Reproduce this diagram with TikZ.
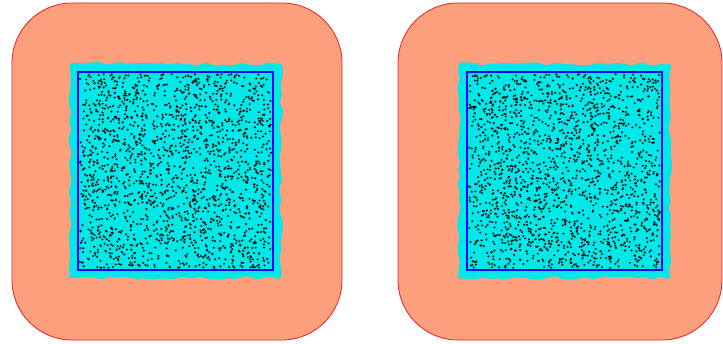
\documentclass[tikz,border=0pt]{standalone}
\usepackage{tikz}
\usetikzlibrary{decorations.pathmorphing}
\definecolor{shellSalmon}{HTML}{FB9F7D}
\definecolor{coreCyan}{HTML}{00E8E8}
\definecolor{edgeRed}{HTML}{F02020}

\begin{document}
\begin{tikzpicture}[x=1pt,y=1pt,
    shell/.style={fill=shellSalmon,draw=edgeRed,line width=0.8pt,rounded corners=60pt},
    halo/.style={fill=coreCyan,decorate,decoration={random steps,segment length=7pt,amplitude=2pt},rounded corners=3pt},
    core/.style={draw=blue,line width=1.8pt},
    grain/.style={fill=black!85!teal}]
  \useasboundingbox (0,0) rectangle (723,343);
  \pgfmathsetseed{4242}
  % two panels: outer left, core left
  \foreach \ox/\ow/\cx in {12/330/78,398/324/467}{
    \draw[shell] (\ox,3) rectangle ++(\ow,337);
    \fill[halo] ({\cx-8},65) rectangle ++(211,214);
    \fill[coreCyan] (\cx,73) rectangle ++(195,198);
    \foreach \i in {1,...,1800}
      \fill[grain] ({\cx+2+rnd*191},{75+rnd*194}) circle (1.15pt);
    \draw[core] (\cx,73) rectangle ++(195,198);
  }
\end{tikzpicture}
\end{document}
